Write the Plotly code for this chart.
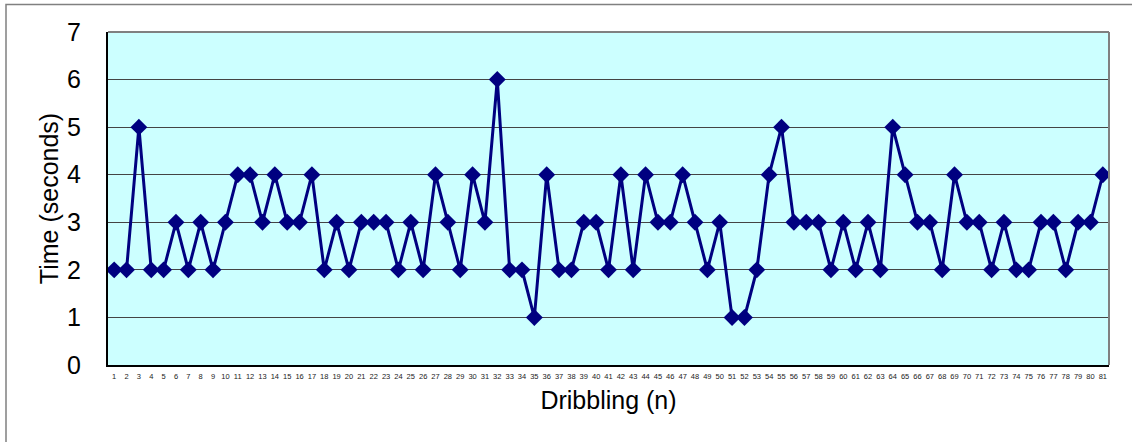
import plotly.graph_objects as go

trials = list(range(1, 82))
times = [2, 2, 5, 2, 2, 3, 2, 3, 2, 3,
         4, 4, 3, 4, 3, 3, 4, 2, 3, 2,
         3, 3, 3, 2, 3, 2, 4, 3, 2, 4,
         3, 6, 2, 2, 1, 4, 2, 2, 3, 3,
         2, 4, 2, 4, 3, 3, 4, 3, 2, 3,
         1, 1, 2, 4, 5, 3, 3, 3, 2, 3,
         2, 3, 2, 5, 4, 3, 3, 2, 4, 3,
         3, 2, 3, 2, 2, 3, 3, 2, 3, 3,
         4]
y_ticks = [0, 1, 2, 3, 4, 5, 6, 7]

W, H = 1132, 442
L, R, T, B = 108, 23, 32, 77
pw, ph = W - L - R, H - T - B

def px_x(p):
    return (p - L) / pw

def px_y(p):
    return (H - B - p) / ph

fig = go.Figure()
fig.add_trace(go.Scatter(
    x=trials, y=times, mode="lines+markers",
    line=dict(color="#000080", width=3),
    marker=dict(symbol="diamond", size=13, color="#000080"),
    showlegend=False,
))

fig.update_layout(
    width=W, height=H,
    margin=dict(l=L, r=R, t=T, b=B, autoexpand=False),
    paper_bgcolor="white",
    plot_bgcolor="#CCFFFF",
    font=dict(family="Arial, Liberation Sans, sans-serif", color="black"),
    xaxis=dict(
        range=[0.5, 81.5], tickmode="array", tickvals=trials,
        ticktext=[str(t) for t in trials],
        tickfont=dict(size=7.5, color="#222"), tickangle=0,
        showgrid=False, zeroline=False,
        showline=True, linecolor="black", linewidth=2,
        ticks="", ticklabelstandoff=3,
        title=dict(text="Dribbling (n)", font=dict(size=25), standoff=11),
    ),
    yaxis=dict(
        range=[0, 7], tickmode="array", tickvals=y_ticks,
        tickfont=dict(size=25), showgrid=True, gridcolor="#444", gridwidth=1,
        zeroline=False, showline=True, linecolor="black", linewidth=2,
        ticks="", ticklabelstandoff=20,
        title=dict(text="Time (seconds)", font=dict(size=25), standoff=1),
    ),
    shapes=[
        dict(type="line", xref="paper", yref="paper", x0=0, x1=1, y0=1, y1=1,
             line=dict(color="#808080", width=2)),
        dict(type="line", xref="paper", yref="paper", x0=1, x1=1, y0=0, y1=1,
             line=dict(color="#808080", width=2)),
        dict(type="rect", xref="paper", yref="paper",
             x0=px_x(6), x1=px_x(1145), y0=px_y(455), y1=px_y(4.5),
             line=dict(color="#808080", width=1.5)),
    ],
)

fig.write_html("out.html", config={"displayModeBar": False},
               post_script="document.body.style.margin='0px';document.body.style.overflow='hidden';")
